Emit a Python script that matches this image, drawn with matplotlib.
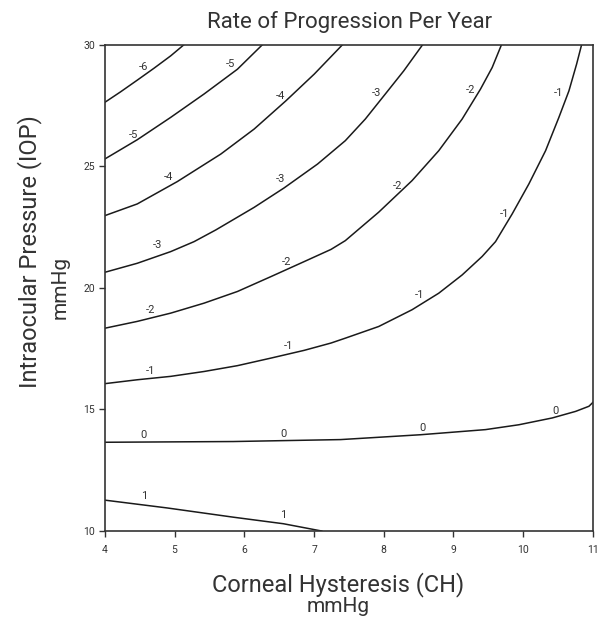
import matplotlib
matplotlib.use("Agg")
import matplotlib.pyplot as plt

plt.rcParams['font.family'] = ['Roboto', 'DejaVu Sans']

# contour lines (CH, IOP)
ch_m6 = [4.0, 4.225, 4.464, 4.704, 4.944, 5.135]
iop_m6 = [27.63, 28.06, 28.54, 29.03, 29.54, 30.0]

ch_m5 = [4.0, 4.464, 4.944, 5.422, 5.901, 6.26]
iop_m5 = [25.30, 26.09, 27.01, 27.97, 28.99, 30.0]

ch_m4 = [4.0, 4.464, 5.039, 5.662, 6.141, 6.596, 7.003, 7.409]
iop_m4 = [22.97, 23.45, 24.37, 25.50, 26.53, 27.69, 28.79, 30.0]

ch_m3 = [4.0, 4.464, 4.944, 5.279, 5.59, 6.141, 6.571, 7.05, 7.448, 7.735, 8.022, 8.286, 8.558]
iop_m3 = [20.64, 21.01, 21.49, 21.90, 22.38, 23.31, 24.11, 25.09, 26.05, 26.94, 27.97, 28.92, 30.0]

ch_m2 = [4.0, 4.464, 4.944, 5.422, 5.901, 6.38, 6.859, 7.243, 7.448, 7.927, 8.406,
         8.789, 9.124, 9.387, 9.555, 9.689]
iop_m2 = [18.34, 18.62, 18.96, 19.37, 19.85, 20.46, 21.08, 21.58, 21.94, 23.11, 24.41,
          25.64, 26.94, 28.17, 29.06, 30.0]

ch_m1 = [4.0, 4.464, 4.944, 5.422, 5.901, 6.38, 6.859, 7.243, 7.448, 7.927, 8.406,
         8.789, 9.124, 9.411, 9.603, 9.842, 10.081, 10.321, 10.512, 10.656, 10.766, 10.838]
iop_m1 = [16.06, 16.22, 16.36, 16.56, 16.80, 17.11, 17.43, 17.73, 17.93, 18.41, 19.10,
          19.78, 20.53, 21.29, 21.90, 23.04, 24.27, 25.64, 27.01, 28.10, 29.20, 30.0]

ch_0 = [4.0, 5.84, 7.38, 8.53, 9.459, 9.938, 10.417, 10.752, 10.943, 11.0]
iop_0 = [13.65, 13.68, 13.76, 13.96, 14.17, 14.37, 14.65, 14.92, 15.13, 15.29]

ch_p1 = [4.0, 4.89, 5.84, 6.56, 7.11]
iop_p1 = [11.27, 10.95, 10.57, 10.3, 10.0]

lines = [(ch_m6, iop_m6), (ch_m5, iop_m5), (ch_m4, iop_m4), (ch_m3, iop_m3),
         (ch_m2, iop_m2), (ch_m1, iop_m1), (ch_0, iop_0), (ch_p1, iop_p1)]

# contour labels
label_text = ['-6', '-5', '-5', '-4', '-4', '-3', '-3', '-3',
              '-2', '-2', '-2', '-2', '-1', '-1', '-1', '-1', '-1',
              '0', '0', '0', '0', '1', '1']
label_ch = [4.55, 5.796, 4.407, 6.524, 4.905, 7.889, 6.524, 4.752,
            9.243, 8.19, 6.61, 4.656, 10.51, 9.736, 8.51, 6.634, 4.656,
            4.56, 6.56, 8.55, 10.47, 4.56, 6.55]
label_iop = [29.10, 29.2, 26.30, 27.9, 24.55, 28.0, 24.48, 21.77,
             28.13, 24.2, 21.08, 19.10, 28.0, 23.04, 19.71, 17.59, 16.56,
             13.93, 13.97, 14.25, 14.92, 11.45, 10.67]

x_ticks = [4, 5, 6, 7, 8, 9, 10, 11]
y_ticks = [10, 15, 20, 25, 30]

fig = plt.figure(figsize=(6.1, 6.2), dpi=100)
ax = fig.add_axes([0.172, 0.1435, 0.8, 0.7845])

for xs, ys in lines:
    ax.plot(xs, ys, color='#1a1a1a', lw=1.1, solid_joinstyle='round')

for t, x, y in zip(label_text, label_ch, label_iop):
    ax.text(x, y, t, ha='center', va='center', fontsize=8, color='#333333')

ax.set_xlim(4, 11)
ax.set_ylim(10, 30)
ax.set_xticks(x_ticks)
ax.set_yticks(y_ticks)
ax.tick_params(direction='out', length=4, width=1, labelsize=7.5,
               colors='#333333', pad=6)
ax.tick_params(axis='y', pad=3)
for s in ax.spines.values():
    s.set_color('#333333')
    s.set_linewidth(1.2)

fig.text(0.573, 0.965, 'Rate of Progression Per Year', ha='center', va='center',
         fontsize=16, color='#333333')

fig.text(0.554, 0.058, 'Corneal Hysteresis (CH)', ha='center', va='center',
         fontsize=17, color='#333333')
fig.text(0.554, 0.021, 'mmHg', ha='center', va='center', fontsize=15, color='#333333')
fig.text(0.049, 0.594, 'Intraocular Pressure (IOP)', ha='center', va='center',
         rotation=90, fontsize=17, color='#333333')
fig.text(0.098, 0.537, 'mmHg', ha='center', va='center', rotation=90,
         fontsize=15, color='#333333')

fig.savefig('out.png', dpi=100)
